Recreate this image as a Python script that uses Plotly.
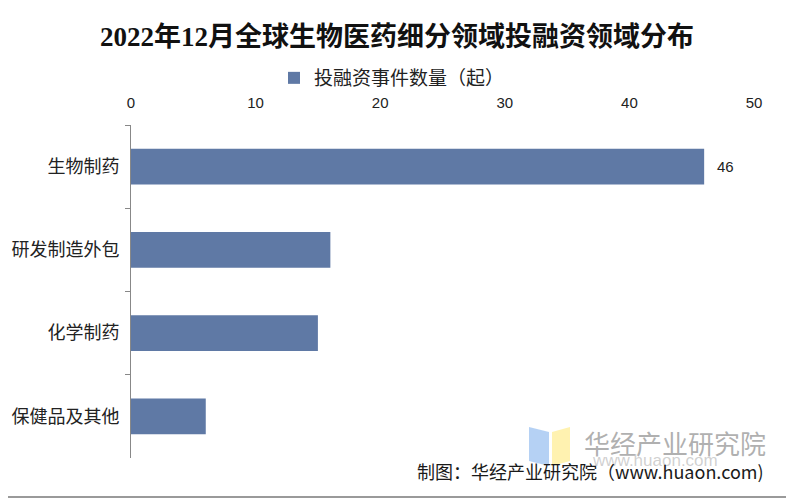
import plotly.graph_objects as go

categories = ["生物制药", "研发制造外包", "化学制药", "保健品及其他"]
values = [46, 16, 15, 6]
labels = ["46", "", "", ""]
tick_vals = [0, 10, 20, 30, 40, 50]

# The page body adds an 8px margin, so the figure is drawn 8px smaller and
# reference pixel coordinates are shifted by OFF.
OFF = 8
W, H = 794 - OFF, 500 - OFF
L, R, T, B = 131 - OFF, 40, 125 - OFF, 42
pw, ph = W - L - R, H - T - B

def px(x):
    return (x - OFF - L) / pw

def py(y):
    return (H - B - (y - OFF)) / ph

CJK = "Noto Sans CJK SC"

fig = go.Figure()
fig.add_trace(go.Bar(
    y=categories, x=values, orientation="h",
    marker=dict(color="#5F79A5", line=dict(width=0)),
    width=0.43,
    name="投融资事件数量（起）", showlegend=True,
))

shapes = [
    # outer border (right and bottom edges visible)
    dict(type="line", xref="paper", yref="paper",
         x0=px(792), x1=px(792), y0=py(497), y1=py(0),
         line=dict(color="#9a9a9a", width=2)),
    dict(type="line", xref="paper", yref="paper",
         x0=px(0), x1=px(792), y0=py(497), y1=py(497),
         line=dict(color="#9a9a9a", width=2)),
    # watermark logo
    dict(type="path", xref="paper", yref="paper",
         path=f"M {px(529)},{py(427)} L {px(549)},{py(432)} L {px(549)},{py(466)} L {px(529)},{py(461)} Z",
         fillcolor="rgba(150,190,240,0.7)", line=dict(width=0), layer="below"),
    dict(type="path", xref="paper", yref="paper",
         path=f"M {px(552)},{py(432)} L {px(570)},{py(427)} L {px(570)},{py(461)} L {px(552)},{py(466)} Z",
         fillcolor="rgba(255,238,150,0.75)", line=dict(width=0), layer="below"),
]

annotations = []
# data labels (only the first bar is labelled in the reference)
for cat, val, lab in zip(categories, values, labels):
    if lab:
        annotations.append(dict(
            text=lab, x=val, y=cat, xref="x", yref="y",
            xanchor="left", yanchor="middle", xshift=11, showarrow=False,
            font=dict(family="Liberation Sans, Arial", size=15, color="#222222")))

annotations += [
    dict(text="华经产业研究院", xref="paper", yref="paper", x=px(582), y=py(442),
         xanchor="left", yanchor="middle", showarrow=False,
         font=dict(family=CJK, size=26, color="rgba(150,150,150,0.75)")),
    dict(text="www.huaon.com", xref="paper", yref="paper", x=px(590), y=py(460),
         xanchor="left", yanchor="middle", showarrow=False,
         font=dict(family="Liberation Sans, Arial", size=17, color="rgba(170,170,170,0.55)")),
    dict(text="制图：华经产业研究院（www.huaon.com)", xref="paper", yref="paper",
         x=px(766), y=py(471), xanchor="right", yanchor="middle", showarrow=False,
         font=dict(family=CJK, size=18, color="#1a1a1a")),
]

fig.update_layout(
    width=W, height=H,
    margin=dict(l=L, r=R, t=T, b=B, pad=0, autoexpand=False),
    paper_bgcolor="white", plot_bgcolor="white",
    title=dict(text="<b>2022年12月全球生物医药细分领域投融资领域分布</b>",
               x=(397 - OFF) / W, xanchor="center", xref="container",
               y=1 - (37 - OFF) / H, yref="container", yanchor="middle",
               font=dict(family="Liberation Serif, " + CJK, size=27, color="#111111")),
    legend=dict(orientation="h", x=px(392), xanchor="center", y=py(78), yanchor="middle",
                xref="paper", yref="paper",
                font=dict(family=CJK, size=19, color="#222222"),
                itemwidth=30, bgcolor="rgba(0,0,0,0)"),
    xaxis=dict(side="top", range=[0, 50], tickvals=tick_vals, showgrid=False,
               zeroline=False, showline=False, ticks="", automargin=False,
               ticklabelstandoff=13,
               tickfont=dict(family="Liberation Sans, Arial", size=15, color="#222222")),
    yaxis=dict(autorange="reversed", type="category", showgrid=False, automargin=False,
               showline=True, linecolor="#888888", linewidth=1,
               ticks="outside", tickson="boundaries", ticklen=5, tickcolor="#888888",
               ticklabelstandoff=7,
               tickfont=dict(family=CJK, size=18, color="#222222")),
    bargap=0.57,
    shapes=shapes, annotations=annotations,
)

fig.write_html("out.html")
